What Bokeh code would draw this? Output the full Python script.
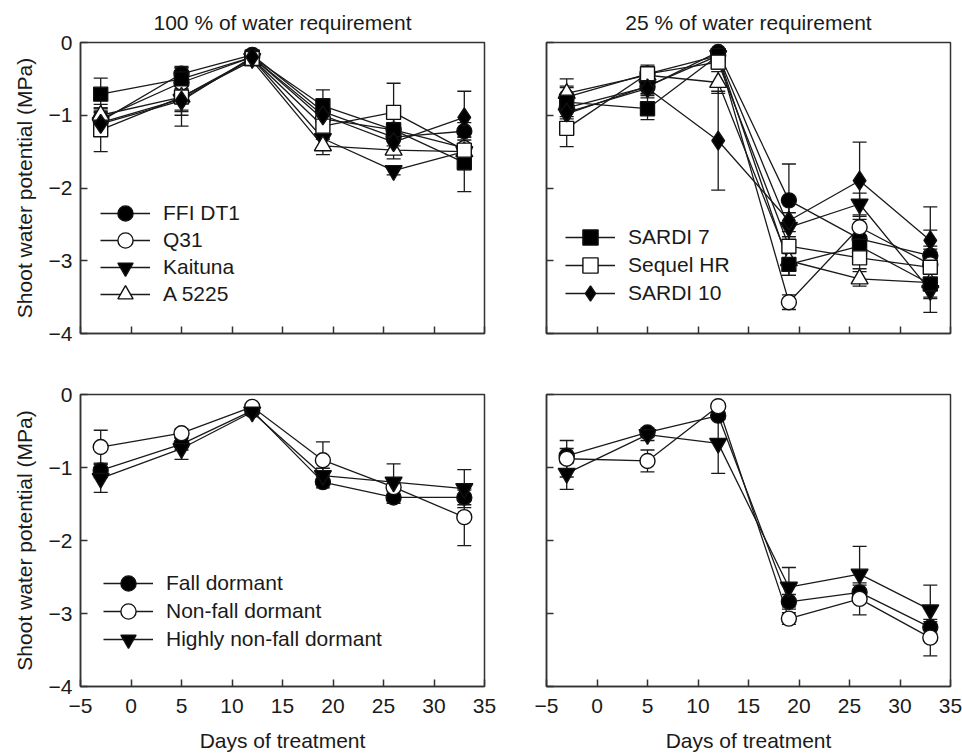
from bokeh.plotting import figure
from bokeh.models import (Range1d, FixedTicker, CustomJSTickFormatter, Whisker, TeeHead,
                          ColumnDataSource, Legend, LegendItem, Title)
from bokeh.layouts import column, row
from bokeh.embed import file_html
from bokeh.resources import INLINE

# ---------------- data ----------------
days = [-3, 5, 12, 19, 26, 33]
x_ticks = [-5, 0, 5, 10, 15, 20, 25, 30, 35]
y_ticks = [-4, -3, -2, -1, 0]

title_100 = "100 % of water requirement"
title_25 = "25 % of water requirement"
x_label = "Days of treatment"
y_label = "Shoot water potential (MPa)"

cultivars = ["FFI DT1", "Q31", "Kaituna", "A 5225", "SARDI 7", "Sequel HR", "SARDI 10"]

# 100 % of water requirement (mean, error)
ffi_100 = [-1.08, -0.43, -0.17, -0.95, -1.30, -1.22]
ffi_100_err = [0.12, 0.10, 0.04, 0.12, 0.12, 0.12]
q31_100 = [-1.05, -0.55, -0.20, -1.05, -1.20, -1.45]
q31_100_err = [0.15, 0.12, 0.04, 0.15, 0.15, 0.15]
kai_100 = [-1.10, -0.78, -0.22, -1.32, -1.76, -1.50]
kai_100_err = [0.15, 0.15, 0.04, 0.15, 0.06, 0.20]
a52_100 = [-1.00, -0.75, -0.25, -1.42, -1.48, -1.50]
a52_100_err = [0.15, 0.20, 0.04, 0.12, 0.12, 0.25]
s7_100 = [-0.71, -0.50, -0.20, -0.87, -1.20, -1.65]
s7_100_err = [0.22, 0.15, 0.04, 0.22, 0.15, 0.40]
seq_100 = [-1.20, -0.75, -0.22, -1.15, -0.96, -1.48]
seq_100_err = [0.30, 0.40, 0.04, 0.18, 0.40, 0.25]
s10_100 = [-1.12, -0.80, -0.20, -1.00, -1.37, -1.03]
s10_100_err = [0.15, 0.20, 0.04, 0.15, 0.15, 0.36]

# 25 % of water requirement
ffi_25 = [-0.90, -0.61, -0.13, -2.17, -2.70, -2.93]
ffi_25_err = [0.15, 0.10, 0.04, 0.50, 0.15, 0.35]
q31_25 = [-0.75, -0.43, -0.18, -3.57, -2.54, -3.05]
q31_25_err = [0.15, 0.08, 0.04, 0.10, 0.15, 0.25]
kai_25 = [-0.98, -0.60, -0.18, -2.54, -2.22, -3.41]
kai_25_err = [0.20, 0.10, 0.04, 0.20, 0.15, 0.30]
a52_25 = [-0.70, -0.45, -0.55, -3.00, -3.25, -3.30]
a52_25_err = [0.20, 0.08, 0.15, 0.20, 0.10, 0.20]
s7_25 = [-0.82, -0.91, -0.18, -3.05, -2.80, -3.32]
s7_25_err = [0.20, 0.15, 0.04, 0.15, 0.15, 0.20]
seq_25 = [-1.18, -0.43, -0.27, -2.80, -2.96, -3.09]
seq_25_err = [0.25, 0.12, 0.10, 0.20, 0.15, 0.25]
s10_25 = [-0.96, -0.63, -1.35, -2.45, -1.90, -2.72]
s10_25_err = [0.25, 0.10, 0.68, 0.30, 0.53, 0.46]

groups = ["Fall dormant", "Non-fall dormant", "Highly non-fall dormant"]
fd_100 = [-1.04, -0.68, -0.22, -1.20, -1.41, -1.41]
fd_100_err = [0.10, 0.08, 0.03, 0.08, 0.08, 0.10]
nfd_100 = [-0.72, -0.53, -0.17, -0.90, -1.27, -1.68]
nfd_100_err = [0.23, 0.06, 0.03, 0.25, 0.10, 0.39]
hnfd_100 = [-1.15, -0.74, -0.24, -1.11, -1.20, -1.29]
hnfd_100_err = [0.19, 0.15, 0.03, 0.10, 0.25, 0.26]

fd_25 = [-0.84, -0.52, -0.29, -2.84, -2.71, -3.19]
fd_25_err = [0.10, 0.06, 0.05, 0.10, 0.10, 0.08]
nfd_25 = [-0.88, -0.91, -0.16, -3.07, -2.80, -3.33]
nfd_25_err = [0.25, 0.15, 0.03, 0.08, 0.22, 0.25]
hnfd_25 = [-1.08, -0.55, -0.67, -2.64, -2.46, -2.95]
hnfd_25_err = [0.22, 0.08, 0.41, 0.27, 0.38, 0.34]

# ---------------- styles ----------------
FONT = "Liberation Sans"
TXT = "#1a1a1a"
STY = {
    "FFI DT1": ("circle", "black", 15),
    "Q31": ("circle", "white", 15),
    "Kaituna": ("inverted_triangle", "black", 17),
    "A 5225": ("triangle", "white", 17),
    "SARDI 7": ("square", "black", 14),
    "Sequel HR": ("square", "white", 14),
    "SARDI 10": ("diamond", "black", 19),
    "Fall dormant": ("circle", "black", 15),
    "Non-fall dormant": ("circle", "white", 15),
    "Highly non-fall dormant": ("inverted_triangle", "black", 17),
}

minus_fmt = "return String(tick).replace('-', '\u2212')"


def make_panel(series, top, left, title=None, title_offset=0):
    p = figure(frame_width=404, frame_height=291 if top else 292,
               x_range=Range1d(-5, 35), y_range=Range1d(-4, 0),
               output_backend="svg", toolbar_location=None,
               min_border_left=80 if left else 31,
               min_border_right=31 if left else 12,
               min_border_top=42 if top else 31,
               min_border_bottom=30 if top else 68)
    p.grid.visible = False
    p.outline_line_color = "#333333"
    p.outline_line_width = 1.5
    p.background_fill_color = "white"
    p.border_fill_color = "white"

    p.xaxis.ticker = FixedTicker(ticks=x_ticks)
    p.yaxis.ticker = FixedTicker(ticks=y_ticks)
    for ax in (p.xaxis[0], p.yaxis[0]):
        ax.major_tick_in = 7
        ax.major_tick_out = 0
        ax.minor_tick_in = 0
        ax.minor_tick_out = 0
        ax.axis_line_color = "#333333"
        ax.axis_line_width = 1.5
        ax.major_tick_line_color = "#333333"
        ax.major_tick_line_width = 1.5
        ax.major_label_text_font = FONT
        ax.major_label_text_color = TXT
        ax.major_label_text_font_size = "21px"
        ax.axis_label_text_font = FONT
        ax.axis_label_text_font_size = "21px"
        ax.axis_label_text_font_style = "normal"
        ax.axis_label_text_color = TXT

    if top:
        p.xaxis.formatter = CustomJSTickFormatter(code="return ''")
        p.xaxis.major_label_text_font_size = "1px"
        p.xaxis.major_label_standoff = 0
    else:
        p.xaxis.formatter = CustomJSTickFormatter(code=minus_fmt)
        p.xaxis.major_label_standoff = 12
        p.xaxis.axis_label = x_label
        p.xaxis.axis_label_standoff = 13
    if left:
        p.yaxis.formatter = CustomJSTickFormatter(code=minus_fmt)
        p.yaxis.major_label_standoff = 8
        p.yaxis.axis_label = y_label
        p.yaxis.axis_label_standoff = 10
    else:
        p.yaxis.formatter = CustomJSTickFormatter(code="return ''")
        p.yaxis.major_label_text_font_size = "1px"
        p.yaxis.major_label_standoff = 0

    rends = {}
    for name, vals, errs in series:
        src = ColumnDataSource(dict(x=days, y=vals,
                                    upper=[v + e for v, e in zip(vals, errs)],
                                    lower=[v - e for v, e in zip(vals, errs)]))
        w = Whisker(source=src, base="x", upper="upper", lower="lower", dimension="height",
                    line_color="#1a1a1a", line_width=1.3, level="underlay",
                    upper_head=TeeHead(size=14, line_width=1.3, line_color="#1a1a1a"),
                    lower_head=TeeHead(size=14, line_width=1.3, line_color="#1a1a1a"))
        p.add_layout(w)
        lr = p.line("x", "y", source=src, line_color="#1a1a1a", line_width=1.3)
        rends[name] = [lr, src]
    for name, vals, errs in series:
        marker, fill, size = STY[name]
        src = rends[name][1]
        sr = p.scatter("x", "y", source=src, marker=marker, size=size,
                       fill_color=fill, line_color="#111111", line_width=1.4)
        rends[name] = [rends[name][0], sr]

    if title:
        p.add_layout(Title(text=title, align="center", standoff=17, offset=title_offset,
                           text_font=FONT, text_font_size="21px", text_font_style="normal",
                           text_color=TXT), "above")
    return p, rends


def add_legend(p, rends, names, x0, y_last, step):
    # one legend box per entry so that rows can sit closer than the marker box
    n = len(names)
    for i, name in enumerate(names):
        y = y_last + (n - 1 - i) * step
        leg = Legend(items=[LegendItem(label=name, renderers=rends[name])],
                     location=(x0, y), glyph_width=50, glyph_height=38,
                     label_height=38, spacing=0, padding=0, margin=0, label_standoff=13,
                     border_line_alpha=0, background_fill_alpha=0,
                     label_text_font=FONT, label_text_font_size="21px",
                     label_text_color=TXT)
        p.add_layout(leg)


s100 = [("FFI DT1", ffi_100, ffi_100_err), ("Q31", q31_100, q31_100_err),
        ("Kaituna", kai_100, kai_100_err), ("A 5225", a52_100, a52_100_err),
        ("SARDI 7", s7_100, s7_100_err), ("Sequel HR", seq_100, seq_100_err),
        ("SARDI 10", s10_100, s10_100_err)]
s25 = [("FFI DT1", ffi_25, ffi_25_err), ("Q31", q31_25, q31_25_err),
       ("Kaituna", kai_25, kai_25_err), ("A 5225", a52_25, a52_25_err),
       ("SARDI 7", s7_25, s7_25_err), ("Sequel HR", seq_25, seq_25_err),
       ("SARDI 10", s10_25, s10_25_err)]
g100 = [("Fall dormant", fd_100, fd_100_err), ("Non-fall dormant", nfd_100, nfd_100_err),
        ("Highly non-fall dormant", hnfd_100, hnfd_100_err)]
g25 = [("Fall dormant", fd_25, fd_25_err), ("Non-fall dormant", nfd_25, nfd_25_err),
       ("Highly non-fall dormant", hnfd_25, hnfd_25_err)]

p1, r1 = make_panel(s100, top=True, left=True, title=title_100)
p2, r2 = make_panel(s25, top=True, left=False, title=title_25, title_offset=16)
p3, r3 = make_panel(g100, top=False, left=True)
p4, r4 = make_panel(g25, top=False, left=False)

add_legend(p1, r1, cultivars[:4], 20, 20, 27)
add_legend(p2, r2, cultivars[4:], 19, 21, 28)
add_legend(p3, r3, groups, 23, 28, 28)

layout = column(row(p1, p2), row(p3, p4))
open("out.html", "w").write(file_html(layout, INLINE))
